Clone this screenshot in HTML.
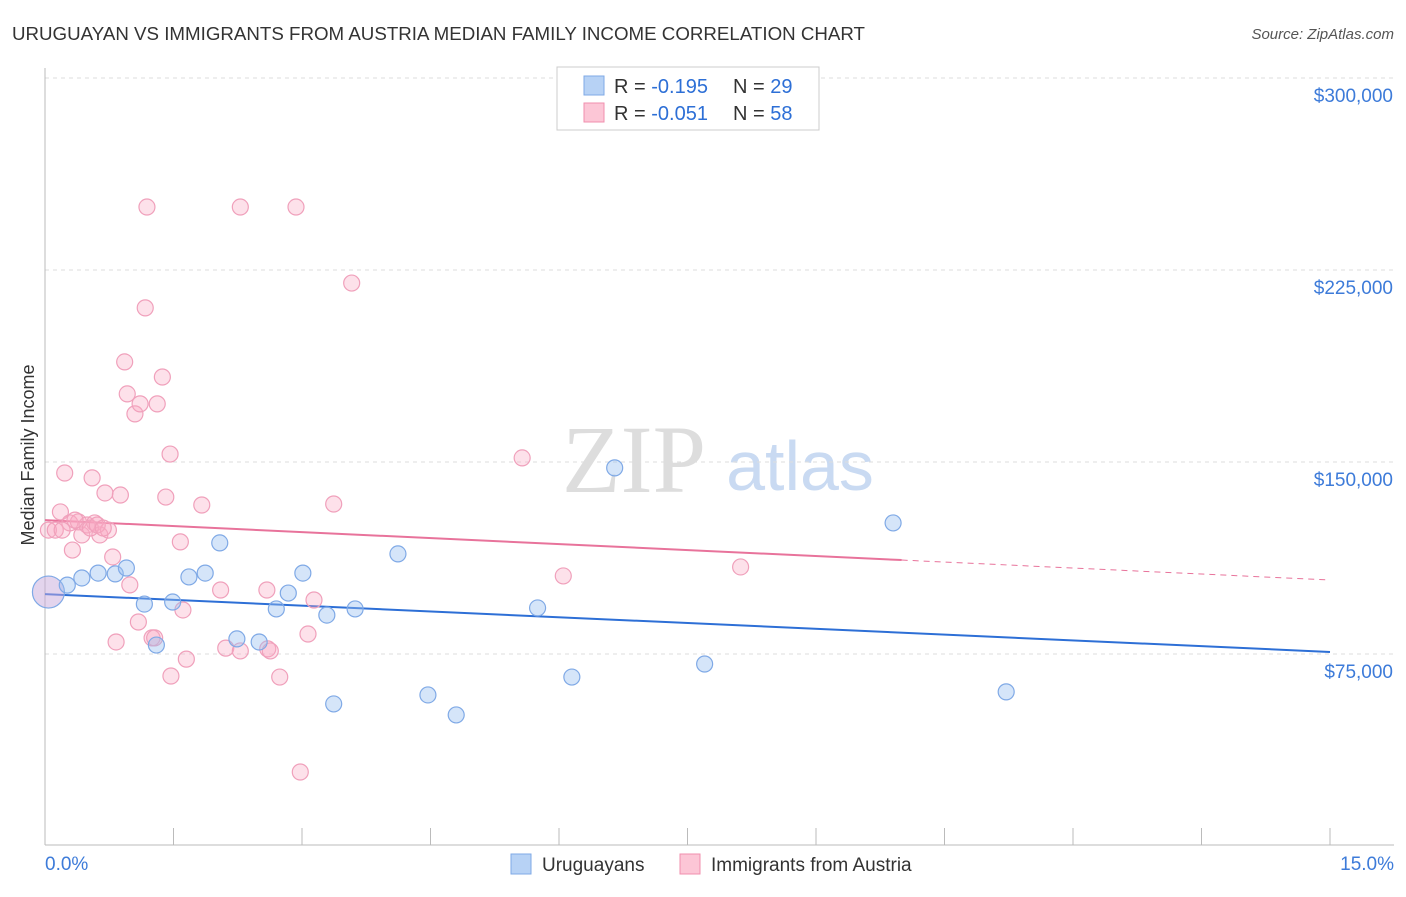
<!DOCTYPE html>
<html><head><meta charset="utf-8"><style>
body{margin:0;background:#fff;font-family:"Liberation Sans",sans-serif}
</style></head><body>
<svg width="1406" height="892" xmlns="http://www.w3.org/2000/svg" font-family="Liberation Sans, sans-serif">
<text x="12" y="40" font-size="18" fill="#333" textLength="853" lengthAdjust="spacingAndGlyphs">URUGUAYAN VS IMMIGRANTS FROM AUSTRIA MEDIAN FAMILY INCOME CORRELATION CHART</text>
<text x="1394" y="39" font-size="15" fill="#555" font-style="italic" text-anchor="end">Source: ZipAtlas.com</text>
<text x="634" y="492" font-size="96" fill="#ddd" font-family="Liberation Serif, serif" text-anchor="middle">ZIP</text>
<text x="800" y="490" font-size="70" fill="#c9daf2" text-anchor="middle">atlas</text>
<text transform="translate(34,455) rotate(-90)" font-size="18" fill="#333" text-anchor="middle">Median Family Income</text>
<g id="grid"></g><g id="axes"></g><g id="trend"></g><g id="pts"></g>
<g>
<rect x="557" y="67" width="262" height="63" fill="#fff" stroke="#ccc"/>
<rect x="584" y="76" width="20" height="19" fill="#b7d2f5" stroke="#7fa9e6"/>
<rect x="584" y="103" width="20" height="19" fill="#fcc6d6" stroke="#f08fae"/>
<text x="614" y="93" font-size="20" fill="#333">R = <tspan fill="#2d6fd6">-0.195</tspan></text>
<text x="733" y="93" font-size="20" fill="#333">N = <tspan fill="#2d6fd6">29</tspan></text>
<text x="614" y="120" font-size="20" fill="#333">R = <tspan fill="#2d6fd6">-0.051</tspan></text>
<text x="733" y="120" font-size="20" fill="#333">N = <tspan fill="#2d6fd6">58</tspan></text>
</g>
<g>
<rect x="511" y="854" width="20" height="20" fill="#b7d2f5" stroke="#7fa9e6"/>
<text x="542" y="871" font-size="19" fill="#333">Uruguayans</text>
<rect x="680" y="854" width="20" height="20" fill="#fcc6d6" stroke="#f08fae"/>
<text x="711" y="871" font-size="19" fill="#333">Immigrants from Austria</text>
</g>
</svg>
<script>
const yTicks=[75000,150000,225000,300000];
const yTickLabels=["$75,000","$150,000","$225,000","$300,000"];
const xTickLabels=["0.0%","15.0%"];
const blueX=[0.04,0.26,0.43,0.62,0.82,0.95,1.16,1.30,1.49,1.68,1.87,2.04,2.24,2.50,2.70,2.84,3.01,3.29,3.37,3.62,4.12,4.47,4.80,5.75,6.15,6.65,7.70,9.90,11.22];
const blueY=[99.2,101.9,104.7,106.6,106.3,108.6,94.5,78.5,95.3,105.1,106.6,118.4,80.9,79.7,92.6,98.8,106.6,90.2,55.5,92.6,114.1,59.0,51.2,93.0,66.0,147.7,71.1,126.2,60.2];
const pinkX=[0.04,0.12,0.18,0.23,0.29,0.32,0.39,0.43,0.49,0.55,0.58,0.64,0.70,0.74,0.79,0.83,0.88,0.93,0.96,0.99,1.05,1.09,1.11,1.17,1.19,1.25,1.28,1.31,1.37,1.41,1.46,1.47,1.58,1.61,1.65,1.83,2.05,2.11,2.28,2.28,2.59,2.60,2.63,2.74,2.93,2.98,3.07,3.14,3.37,3.58,5.57,6.05,8.12,0.20,0.35,0.53,0.61,0.68];
const pinkY=[123.4,123.4,130.5,145.7,126.2,115.6,126.6,121.5,125.4,143.8,126.2,121.5,137.9,123.4,112.9,79.7,137.1,189.1,176.6,102.0,168.8,87.5,172.7,210.2,249.6,81.3,81.3,172.7,183.2,136.3,153.1,66.4,118.8,92.2,73.0,133.2,100.0,77.3,249.6,76.2,100.0,77.0,76.2,66.0,249.6,28.9,82.8,96.1,133.6,219.9,151.6,105.5,109.0,123.4,127.3,124.2,125.4,124.2];
const blueTrend=[98.4,75.8];
const pinkTrend=[127.3,103.9];
const pinkSolidEnd=10;
const NS="http://www.w3.org/2000/svg";
const X=p=>45+p/15*1285;
const Y=k=>654-(k-75)*192/75;
function mk(t,a,parent){const e=document.createElementNS(NS,t);for(const k in a)e.setAttribute(k,a[k]);document.getElementById(parent).appendChild(e);return e;}
yTicks.forEach((v,i)=>{
 const y=Y(v/1000);
 const l=mk('line',{x1:45,x2:1394,y1:y,y2:y,stroke:'#ddd','stroke-dasharray':'4,4'},'grid');
 
 
 const t=mk('text',{x:1393,y:y+24,'font-size':19,fill:'#3d7bd9','text-anchor':'end'},'grid');
 t.textContent=yTickLabels[i];
 
 
});
const ax=mk('line',{x1:45,x2:1394,y1:845,y2:845,stroke:'#bbb'},'axes');


const ay=mk('line',{x1:45,x2:45,y1:68,y2:845,stroke:'#bbb'},'axes');


for(let i=0;i<=10;i++){const x=X(i*1.5);
 const tk=mk('line',{x1:x,x2:x,y1:828,y2:845,stroke:'#bbb'},'axes');
 
 }
[[0,'start',45],[1,'end',1394]].forEach(([i,a,x])=>{
 const t=mk('text',{x:x,y:870,'font-size':19,fill:'#3d7bd9','text-anchor':a},'axes');
 t.textContent=xTickLabels[i];
 
 });
const bt=mk('line',{x1:X(0),y1:Y(blueTrend[0]),x2:X(15),y2:Y(blueTrend[1]),stroke:'#2d6fd6','stroke-width':2},'trend');


const pm=pinkTrend[0]+(pinkTrend[1]-pinkTrend[0])*pinkSolidEnd/15;
const pt=mk('line',{x1:X(0),y1:Y(pinkTrend[0]),x2:X(pinkSolidEnd),y2:Y(pm),stroke:'#e8739b','stroke-width':2},'trend');


const pd=mk('line',{x1:X(pinkSolidEnd),y1:Y(pm),x2:X(15),y2:Y(pinkTrend[1]),stroke:'#e8739b','stroke-width':1,'stroke-dasharray':'6,5'},'trend');


pinkX.forEach((x,i)=>{const c=mk('circle',{cx:X(x),cy:Y(pinkY[i]),r:8,fill:'rgba(248,170,196,0.35)',stroke:'#f0a0bb','stroke-width':1.2},'pts');
 
 });
blueX.forEach((x,i)=>{const c=mk('circle',{cx:X(x),cy:Y(blueY[i]),r:i==0?16:8,fill:i==0?'rgba(200,170,220,0.5)':'rgba(150,190,240,0.4)',stroke:'#7fa9e6','stroke-width':1.2},'pts');
 
 });
</script>
</body></html>
